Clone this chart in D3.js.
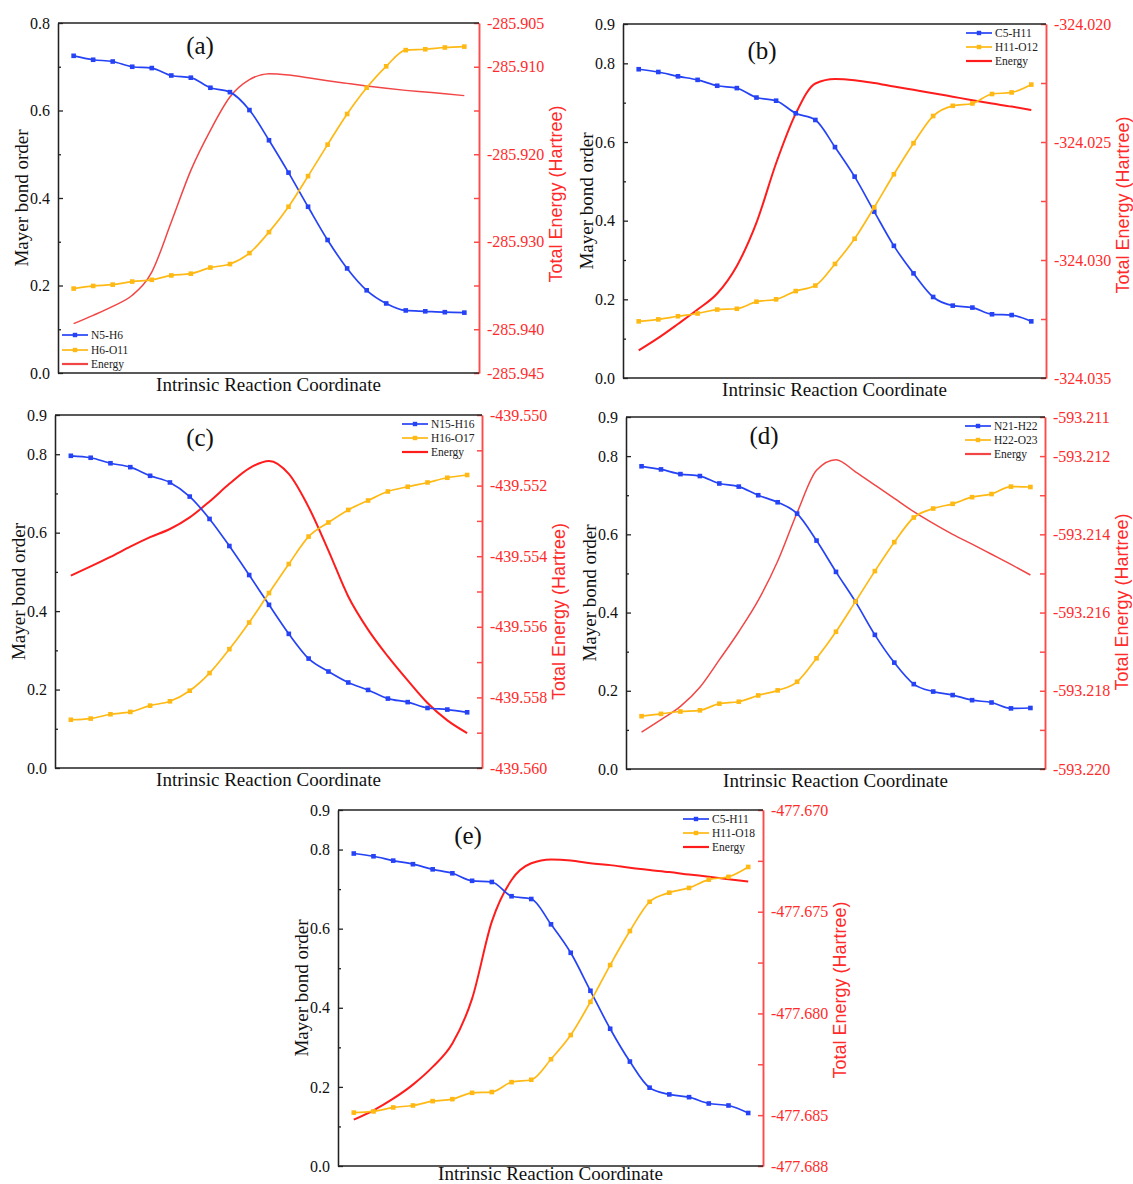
<!DOCTYPE html>
<html><head><meta charset="utf-8">
<script src="https://cdn.jsdelivr.net/npm/d3@7"></script>
<style>body{margin:0;background:#fff} svg{display:block}</style>
</head><body>
<svg id="fig" width="1133" height="1184"></svg>
<script>
// ---------- data ----------
const ircIndex = [0,1,2,3,4,5,6,7,8,9,10,11,12,13,14,15,16,17,18,19,20];

// (a)
const seriesNamesA = ["N5-H6","H6-O11","Energy"];
const bondA1 = [0.725,0.716,0.712,0.700,0.697,0.680,0.675,0.652,0.642,0.601,0.532,0.458,0.380,0.304,0.239,0.189,0.159,0.143,0.141,0.139,0.138];
const bondA2 = [0.193,0.199,0.202,0.209,0.213,0.223,0.227,0.241,0.249,0.274,0.322,0.380,0.450,0.522,0.592,0.652,0.701,0.738,0.740,0.744,0.746];
const energyA = [-285.93936,-285.93841,-285.93738,-285.93612,-285.93346,-285.92774,-285.92184,-285.91727,-285.91346,-285.91148,-285.91079,-285.91094,-285.91125,-285.91159,-285.91190,-285.91220,-285.91247,-285.91270,-285.91289,-285.91308,-285.91330];
const leftLabelsA = ["0.0","0.2","0.4","0.6","0.8"];
const rightLabelsA = ["-285.905","-285.910","-285.920","-285.930","-285.940","-285.945"];

// (b)
const seriesNamesB = ["C5-H11","H11-O12","Energy"];
const bondB1 = [0.785,0.778,0.767,0.758,0.743,0.737,0.713,0.705,0.673,0.656,0.587,0.512,0.423,0.336,0.266,0.206,0.184,0.179,0.162,0.160,0.144];
const bondB2 = [0.144,0.149,0.157,0.164,0.174,0.176,0.194,0.200,0.221,0.235,0.290,0.354,0.434,0.518,0.597,0.666,0.692,0.698,0.722,0.726,0.746];
const energyB = [-324.03383,-324.03330,-324.03271,-324.03210,-324.03142,-324.03025,-324.02842,-324.02590,-324.02380,-324.02252,-324.02233,-324.02238,-324.02250,-324.02265,-324.02279,-324.02293,-324.02308,-324.02323,-324.02337,-324.02350,-324.02365];
const leftLabelsB = ["0.0","0.2","0.4","0.6","0.8","0.9"];
const rightLabelsB = ["-324.020","-324.025","-324.030","-324.035"];

// (c)
const seriesNamesC = ["N15-H16","H16-O17","Energy"];
const bondC1 = [0.796,0.791,0.777,0.767,0.745,0.728,0.692,0.635,0.566,0.492,0.416,0.342,0.279,0.246,0.218,0.199,0.177,0.168,0.153,0.149,0.142];
const bondC2 = [0.123,0.126,0.137,0.143,0.159,0.170,0.197,0.242,0.303,0.371,0.446,0.520,0.590,0.626,0.658,0.682,0.705,0.717,0.728,0.740,0.747];
const energyC = [-439.55455,-439.55429,-439.55402,-439.55373,-439.55346,-439.55323,-439.55290,-439.55245,-439.55195,-439.55151,-439.55130,-439.55167,-439.55261,-439.55384,-439.55514,-439.55608,-439.55684,-439.55752,-439.55816,-439.55865,-439.55901];
const leftLabelsC = ["0.0","0.2","0.4","0.6","0.8","0.9"];
const rightLabelsC = ["-439.550","-439.552","-439.554","-439.556","-439.558","-439.560"];

// (d)
const seriesNamesD = ["N21-H22","H22-O23","Energy"];
const bondD1 = [0.774,0.766,0.754,0.749,0.730,0.722,0.700,0.682,0.653,0.584,0.504,0.428,0.343,0.272,0.217,0.198,0.189,0.176,0.170,0.155,0.156];
const bondD2 = [0.135,0.141,0.147,0.150,0.167,0.172,0.188,0.201,0.223,0.283,0.351,0.428,0.506,0.580,0.643,0.666,0.678,0.695,0.703,0.722,0.721];
const energyD = [-593.21906,-593.21874,-593.21840,-593.21791,-593.21721,-593.21649,-593.21569,-593.21469,-593.21345,-593.21236,-593.21209,-593.21240,-593.21274,-593.21308,-593.21342,-593.21372,-593.21400,-593.21425,-593.21451,-593.21477,-593.21504];
const leftLabelsD = ["0.0","0.2","0.4","0.6","0.8","0.9"];
const rightLabelsD = ["-593.211","-593.212","-593.214","-593.216","-593.218","-593.220"];

// (e)
const seriesNamesE = ["C5-H11","H11-O18","Energy"];
const bondE1 = [0.790,0.783,0.772,0.763,0.750,0.740,0.721,0.718,0.682,0.675,0.611,0.539,0.443,0.347,0.264,0.198,0.181,0.174,0.158,0.153,0.134];
const bondE2 = [0.135,0.138,0.148,0.153,0.164,0.169,0.185,0.187,0.212,0.218,0.270,0.331,0.415,0.508,0.594,0.668,0.691,0.703,0.724,0.731,0.756];
const energyE = [-477.68522,-477.68476,-477.68419,-477.68350,-477.68263,-477.68148,-477.67927,-477.67549,-477.67344,-477.67262,-477.67243,-477.67248,-477.67262,-477.67271,-477.67284,-477.67295,-477.67305,-477.67317,-477.67328,-477.67340,-477.67351];
const leftLabelsE = ["0.0","0.2","0.4","0.6","0.8","0.9"];
const rightLabelsE = ["-477.670","-477.675","-477.680","-477.685","-477.688"];

// ---------- layout (positions & styles) ----------
const BLUE = "#2543f5", YELLOW = "#ffb914", RED = "#ff2b2b", AXRED = "#ff4a4a";
const SERIF = "'Liberation Serif','Times New Roman',serif";
const SANS = "'Liberation Sans',Arial,sans-serif";

const panels = [
  {tag:"(a)", L:58, R:479, T:23, B:373, leftMax:0.8, rDom:[-285.945,-285.905], rStep:0.005,
   b1:bondA1, b2:bondA2, en:energyA, names:seriesNamesA, ll:leftLabelsA, rl:rightLabelsA,
   legend:"bl", tagDx:142, tagDy:22, rtDy:-4, xtDy:18, enCol:"#f24646", enW:1.5},
  {tag:"(b)", L:623, R:1046, T:24, B:378, leftMax:0.9, rDom:[-324.035,-324.020], rStep:0.0025,
   b1:bondB1, b2:bondB2, en:energyB, names:seriesNamesB, ll:leftLabelsB, rl:rightLabelsB,
   legend:"tr", tagDx:139, tagDy:26, rtDy:4, xtDy:18, enCol:"#ff1c1c", enW:2},
  {tag:"(c)", L:55, R:482, T:415, B:768, leftMax:0.9, rDom:[-439.560,-439.550], rStep:0.001,
   b1:bondC1, b2:bondC2, en:energyC, names:seriesNamesC, ll:leftLabelsC, rl:rightLabelsC,
   legend:"tr", tagDx:145, tagDy:22, rtDy:20, xtDy:18, enCol:"#ff1c1c", enW:2},
  {tag:"(d)", L:626, R:1045, T:417, B:769, leftMax:0.9, rDom:[-593.220,-593.211], rStep:0.001,
   b1:bondD1, b2:bondD2, en:energyD, names:seriesNamesD, ll:leftLabelsD, rl:rightLabelsD,
   legend:"tr", tagDx:138, tagDy:18, rtDy:9, xtDy:18, enCol:"#f24646", enW:1.5},
  {tag:"(e)", L:338, R:763, T:810, B:1166, leftMax:0.9, rDom:[-477.6875,-477.670], rStep:0.0025,
   b1:bondE1, b2:bondE2, en:energyE, names:seriesNamesE, ll:leftLabelsE, rl:rightLabelsE,
   legend:"tr", tagDx:130, tagDy:25, rtDy:2, xtDy:14, enCol:"#ff1c1c", enW:2}
];

const svg = d3.select("#fig");
svg.append("rect").attr("width",1133).attr("height",1184).attr("fill","#fff");

panels.forEach(p => {
  const g = svg.append("g");
  const x = d3.scaleLinear().domain([-0.8, 20.75]).range([p.L, p.R]);
  const y = d3.scaleLinear().domain([0, p.leftMax]).range([p.B, p.T]);
  const yr = d3.scaleLinear().domain(p.rDom).range([p.B, p.T]);

  // left axis: minor + major
  const leftAll = d3.range(0, Math.round(p.leftMax*10)+1).map(i => i/10);
  const leftMaj = p.ll.map(Number);
  const leftMin = leftAll.filter(v => !leftMaj.some(m => Math.abs(m-v) < 1e-9));
  const la1 = g.append("g").attr("transform",`translate(${p.L},0)`)
    .call(d3.axisLeft(y).tickValues(leftMin).tickSizeInner(-3).tickSizeOuter(0).tickFormat(""));
  const la2 = g.append("g").attr("transform",`translate(${p.L},0)`)
    .call(d3.axisLeft(y).tickValues(leftMaj).tickSizeInner(-5).tickSizeOuter(0).tickPadding(8)
      .tickFormat((d,i) => p.ll[i]));
  [la1,la2].forEach(a => {
    a.selectAll("path,line").attr("stroke","#222").attr("stroke-width",1.3);
    a.selectAll("text").attr("font-family",SERIF).attr("font-size",16).attr("fill","#111");
  });

  // right axis
  const [r0, r1] = p.rDom;
  const nR = Math.round((r1 - r0)/p.rStep);
  const rightAll = d3.range(0, nR+1).map(i => r0 + i*p.rStep);
  const rightMaj = p.rl.map(Number);
  const isMaj = v => rightMaj.some(m => Math.abs(m-v) < p.rStep*0.05) || Math.abs(v-r0)<1e-9;
  const rightMin = rightAll.filter(v => !isMaj(v));
  const rightMajPos = rightMaj.map(v => Math.abs(v - (-477.688))<1e-9 ? r0 : v);
  const ra1 = g.append("g").attr("transform",`translate(${p.R},0)`)
    .call(d3.axisRight(yr).tickValues(rightMin).tickSizeInner(-5).tickSizeOuter(0).tickFormat(""));
  const ra2 = g.append("g").attr("transform",`translate(${p.R},0)`)
    .call(d3.axisRight(yr).tickValues(rightMajPos).tickSizeInner(-5).tickSizeOuter(0).tickPadding(8)
      .tickFormat((d,i) => p.rl[i]));
  [ra1,ra2].forEach(a => {
    a.selectAll("path,line").attr("stroke",AXRED).attr("stroke-width",1.5);
    a.selectAll("text").attr("font-family",SERIF).attr("font-size",16).attr("fill",RED);
  });

  // top & bottom frame
  g.append("line").attr("x1",p.L).attr("x2",p.R).attr("y1",p.T).attr("y2",p.T)
    .attr("stroke","#222").attr("stroke-width",1.3);
  g.append("line").attr("x1",p.L).attr("x2",p.R).attr("y1",p.B).attr("y2",p.B)
    .attr("stroke","#222").attr("stroke-width",1.3);

  // titles
  const cy = (p.T + p.B)/2;
  g.append("text").attr("transform",`translate(${p.L-37},${cy}) rotate(-90)`)
    .attr("text-anchor","middle").attr("dominant-baseline","central")
    .attr("font-family",SERIF).attr("font-size",19).attr("fill","#111").text("Mayer bond order");
  g.append("text").attr("transform",`translate(${p.R+77},${cy+p.rtDy}) rotate(-90)`)
    .attr("text-anchor","middle").attr("dominant-baseline","central")
    .attr("font-family",SANS).attr("font-size",18).attr("fill",RED).text("Total Energy (Hartree)");
  g.append("text").attr("x",(p.L+p.R)/2).attr("y",p.B+p.xtDy)
    .attr("text-anchor","middle")
    .attr("font-family",SERIF).attr("font-size",19).attr("fill","#111").text("Intrinsic Reaction Coordinate");
  g.append("text").attr("x",p.L+p.tagDx).attr("y",p.T+p.tagDy)
    .attr("text-anchor","middle").attr("dominant-baseline","central")
    .attr("font-family",SERIF).attr("font-size",25).attr("fill","#111").text(p.tag);

  // lines
  const lineL = d3.line().x((d,i)=>x(ircIndex[i])).y(d=>y(d)).curve(d3.curveMonotoneX);
  const lineR = d3.line().x((d,i)=>x(ircIndex[i])).y(d=>yr(d)).curve(d3.curveMonotoneX);
  g.append("path").attr("d",lineR(p.en)).attr("fill","none").attr("stroke",p.enCol).attr("stroke-width",p.enW);
  [[p.b1,BLUE],[p.b2,YELLOW]].forEach(([arr,col]) => {
    g.append("path").attr("d",lineL(arr)).attr("fill","none").attr("stroke",col).attr("stroke-width",1.7);
    g.selectAll(null).data(arr).enter().append("rect")
      .attr("x",(d,i)=>x(ircIndex[i])-2.3).attr("y",d=>y(d)-2.3)
      .attr("width",4.6).attr("height",4.6).attr("fill",col);
  });

  // legend
  let lx0, rows;
  if (p.legend === "bl") { lx0 = p.L+4; rows = [p.B-38, p.B-23, p.B-9]; }
  else { lx0 = p.R-80; rows = [p.T+9, p.T+23, p.T+37]; }
  const cols = [BLUE, YELLOW, p.enCol];
  p.names.forEach((nm, k) => {
    g.append("line").attr("x1",lx0).attr("x2",lx0+26).attr("y1",rows[k]).attr("y2",rows[k])
      .attr("stroke",cols[k]).attr("stroke-width", k===2 ? 2.2 : 1.7);
    if (k < 2) g.append("rect").attr("x",lx0+13-2.2).attr("y",rows[k]-2.2)
      .attr("width",4.4).attr("height",4.4).attr("fill",cols[k]);
    g.append("text").attr("x",lx0+29).attr("y",rows[k]).attr("dominant-baseline","central")
      .attr("font-family",SERIF).attr("font-size",11.5).attr("fill","#222").text(nm);
  });
});
</script>
</body></html>
